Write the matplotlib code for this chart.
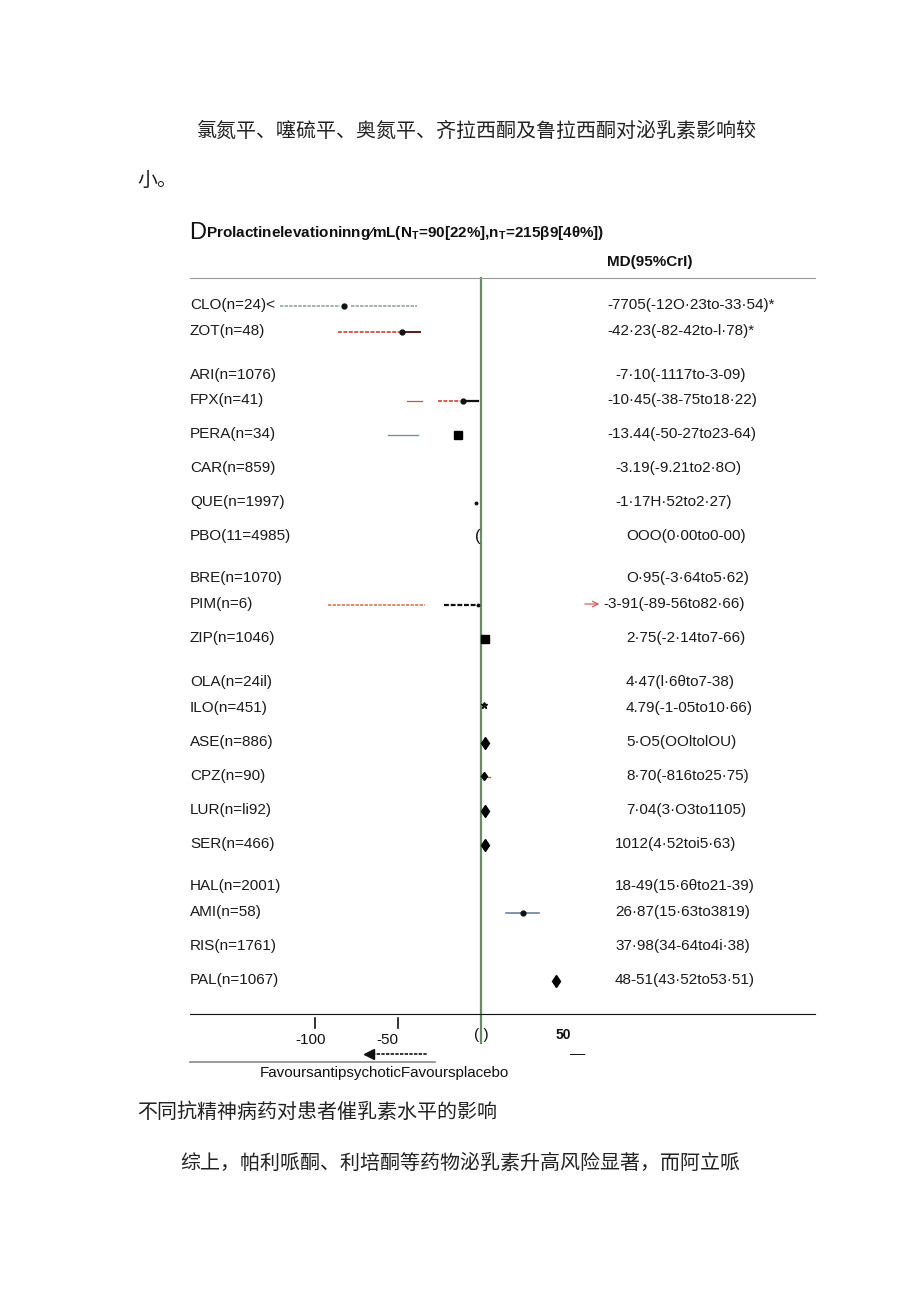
import numpy as np
import matplotlib.pyplot as plt

plt.rcParams['font.family'] = ['Liberation Sans', 'DejaVu Sans']
plt.rcParams['mathtext.fontset'] = 'custom'
plt.rcParams['mathtext.rm'] = 'Liberation Sans:bold'

W, H = 920, 1301
CJK = ['Noto Sans CJK SC', 'DejaVu Sans']

# row labels and the MD column, as printed
drugs = ['CLO(n=24)<', 'ZOT(n=48)', 'ARI(n=1076)', 'FPX(n=41)', 'PERA(n=34)',
         'CAR(n=859)', 'QUE(n=1997)', 'PBO(11=4985)', 'BRE(n=1070)', 'PIM(n=6)',
         'ZIP(n=1046)', 'OLA(n=24il)', 'ILO(n=451)', 'ASE(n=886)', 'CPZ(n=90)',
         'LUR(n=li92)', 'SER(n=466)', 'HAL(n=2001)', 'AMI(n=58)', 'RIS(n=1761)',
         'PAL(n=1067)']
md_text = ['-7705(-12O·23to-33·54)*', '-42·23(-82-42to-l·78)*', '-7·10(-1117to-3-09)',
           '-10·45(-38-75to18·22)', '-13.44(-50-27to23-64)', '-3.19(-9.21to2·8O)',
           '-1·17H·52to2·27)', 'OOO(0·00to0-00)', 'O·95(-3·64to5·62)',
           '-3-91(-89-56to82·66)', '2·75(-2·14to7-66)', '4·47(l·6θto7-38)',
           '4.79(-1-05to10·66)', '5·O5(OOltolOU)', '8·70(-816to25·75)',
           '7·04(3·O3to1105)', '1012(4·52toi5·63)', '18-49(15·6θto21-39)',
           '26·87(15·63to3819)', '37·98(34-64to4i·38)', '48-51(43·52to53·51)']

# marks as they appear in the scanned plot (MD, ng/mL)
dot_rows = ['CLO', 'ZOT', 'FPX', 'AMI']
dot_x = [-82.5, -47.6, -10.8, 25.3]
tiny_rows = ['QUE', 'PIM']
tiny_x = [-3.0, -1.8]
square_rows = ['PERA', 'ZIP']
square_x = [-13.9, 2.4]
diamond_rows = ['ASE', 'LUR', 'SER', 'PAL', 'CPZ']
diamond_x = [2.4, 2.4, 2.4, 45.2, 1.8]
star_rows = ['ILO']
star_x = [1.8]

seg_rows = ['CLO', 'CLO', 'ZOT', 'ZOT', 'FPX', 'FPX', 'FPX', 'PERA', 'PIM', 'PIM', 'AMI', 'CPZ']
seg_lo = [-121.0, -78.3, -86.1, -46.4, -44.6, -25.9, -10.2, -56.0, -92.0, -22.3, 15.1, 3.0]
seg_hi = [-84.9, -38.6, -48.8, -36.7, -35.5, -12.7, -1.8, -38.0, -33.7, -2.4, 34.9, 5.5]
seg_style = ['gray--', 'gray--', 'red--', 'dark-', 'red-', 'red--', 'black-', 'gray-',
             'orange--', 'black--', 'slate-', 'red-']

# layout (pixel rows of the page)
row_y = [305, 331, 375, 400, 434, 468, 502, 536, 578, 604, 638, 682, 708, 742,
         776, 810, 844, 886, 912, 946, 980]
md_px = [607, 607, 615, 607, 607, 615, 615, 626, 626, 603, 626, 626, 626, 626,
         626, 626, 615, 615, 615, 615, 615]
styles = {
    'gray--': ('#8a9c9c', (0, (2.2, 0.8)), 1.1),
    'red--': ('#d2504a', (0, (2.2, 0.8)), 1.3),
    'orange--': ('#d86a4a', (0, (2.2, 0.8)), 1.1),
    'black--': ('#111111', (0, (2.2, 0.8)), 1.6),
    'dark-': ('#5a1a1a', '-', 1.4),
    'red-': ('#d2504a', '-', 0.9),
    'black-': ('#111111', '-', 1.6),
    'gray-': ('#7f9090', '-', 1.0),
    'slate-': ('#6f7fa0', '-', 1.2),
}

keys = [d.split('(')[0] for d in drugs]
ypos = dict(zip(keys, row_y))


def px(x):
    return (x - 481) / 1.66


fig = plt.figure(figsize=(W / 100, H / 100), dpi=100)
ax = fig.add_axes([190 / W, 1 - 1014 / H, 625 / W, 736 / H])
ax.set_xlim(px(190), px(815))
ax.set_ylim(1014, 278)
ax.set_xticks([])
ax.set_yticks([])
for s in ['left', 'right']:
    ax.spines[s].set_visible(False)
ax.spines['top'].set_color('#9a9a9a')
ax.spines['bottom'].set_color('#111111')

# zero line
ax.plot([0, 0], [278, 1043], color='#6a8a6a', lw=1.6, clip_on=False, zorder=1)

for r, lo, hi, st in zip(seg_rows, seg_lo, seg_hi, seg_style):
    c, ls, lw = styles[st]
    ax.plot([lo, hi], [ypos[r] + 1, ypos[r] + 1], color=c, ls=ls, lw=lw, zorder=2)

ax.plot(dot_x, [ypos[r] + 1 for r in dot_rows], 'o', color='#111111', ms=3.5, zorder=3)
ax.plot(tiny_x, [ypos[r] + 1 for r in tiny_rows], 'o', color='#111111', ms=1.8, zorder=3)
ax.plot(square_x, [ypos[r] + 1 for r in square_rows], 's', color='#000000', ms=6, zorder=3)
ax.plot(diamond_x[:4], [ypos[r] + 1 for r in diamond_rows[:4]], 'd', color='#000000', ms=6.5, zorder=3)
ax.plot(diamond_x[4:], [ypos[r] for r in diamond_rows[4:]], 'd', color='#000000', ms=4.5, zorder=3)
ax.plot(star_x, [ypos[r] - 3 for r in star_rows], '*', color='#111111', ms=5, zorder=3)
ax.text(-1.8, ypos['PBO'] + 1, '(', ha='center', va='center', fontsize=12, color='#111111')

for name, y, t, xp in zip(drugs, row_y, md_text, md_px):
    ax.text(px(190), y, name, ha='left', va='center', fontsize=11, color='#1a1a1a')
    ax.text(px(xp), y, t, ha='left', va='center', fontsize=11, color='#1a1a1a')
ax.annotate('', xy=(px(602), ypos['PIM']), xytext=(px(582), ypos['PIM']),
            arrowprops=dict(arrowstyle='->', color='#d2504a', lw=0.8))

# header
ax.text(px(189), 233, 'D', ha='left', va='center', fontsize=17, color='#111111', clip_on=False)
ax.text(px(206), 233, r'Prolactinelevationinng⁄mL(N$_\mathrm{T}$=90[22%],n$_\mathrm{T}$=215β9[4θ%])',
        ha='left', va='center', fontsize=11, fontweight='bold', color='#111111')
ax.text(px(607), 262, 'MD(95%CrI)', ha='left', va='center', fontsize=11,
        fontweight='bold', color='#111111')

# axis ticks and footer
for tx in [-100, -50]:
    ax.plot([tx, tx], [1018, 1028], color='#111111', lw=1.2, clip_on=False)
ax.text(-102.5, 1040, '-100', ha='center', va='center', fontsize=11, color='#111111')
ax.text(-56.5, 1040, '-50', ha='center', va='center', fontsize=11, color='#111111')
ax.text(0, 1035, '( )', ha='center', va='center', fontsize=11, color='#111111')
ax.text(49.5, 1035, '50', ha='center', va='center', fontsize=10, fontweight='bold', color='#111111')
ax.text(58.5, 1054, '—', ha='center', va='center', fontsize=11, color='#111111')
ax.plot([px(372), px(427)], [1054, 1054], color='#111111', ls=(0, (2, 0.8)), lw=1.2, clip_on=False)
ax.plot([px(369)], [1054], '<', color='#111111', ms=7, clip_on=False)
ax.plot([px(190), px(435)], [1062, 1062], color='#8a8a8a', lw=1.2, clip_on=False)
ax.text(px(260), 1073, 'FavoursantipsychoticFavoursplacebo', ha='left', va='center',
        fontsize=10.9, color='#111111')

# surrounding page text
fig.text(197 / W, 1 - 131 / H, '氯氮平、噻硫平、奥氮平、齐拉西酮及鲁拉西酮对泌乳素影响较',
         family=CJK, fontsize=14.4, color='#222222', va='center')
fig.text(137 / W, 1 - 180 / H, '小。', family=CJK, fontsize=14.4, color='#222222', va='center')
fig.text(137 / W, 1 - 1112 / H, '不同抗精神病药对患者催乳素水平的影响',
         family=CJK, fontsize=14.4, color='#222222', va='center')
fig.text(180 / W, 1 - 1163 / H, '综上，帕利哌酮、利培酮等药物泌乳素升高风险显著，而阿立哌',
         family=CJK, fontsize=14.4, color='#222222', va='center')

fig.savefig('out.png', dpi=100)
